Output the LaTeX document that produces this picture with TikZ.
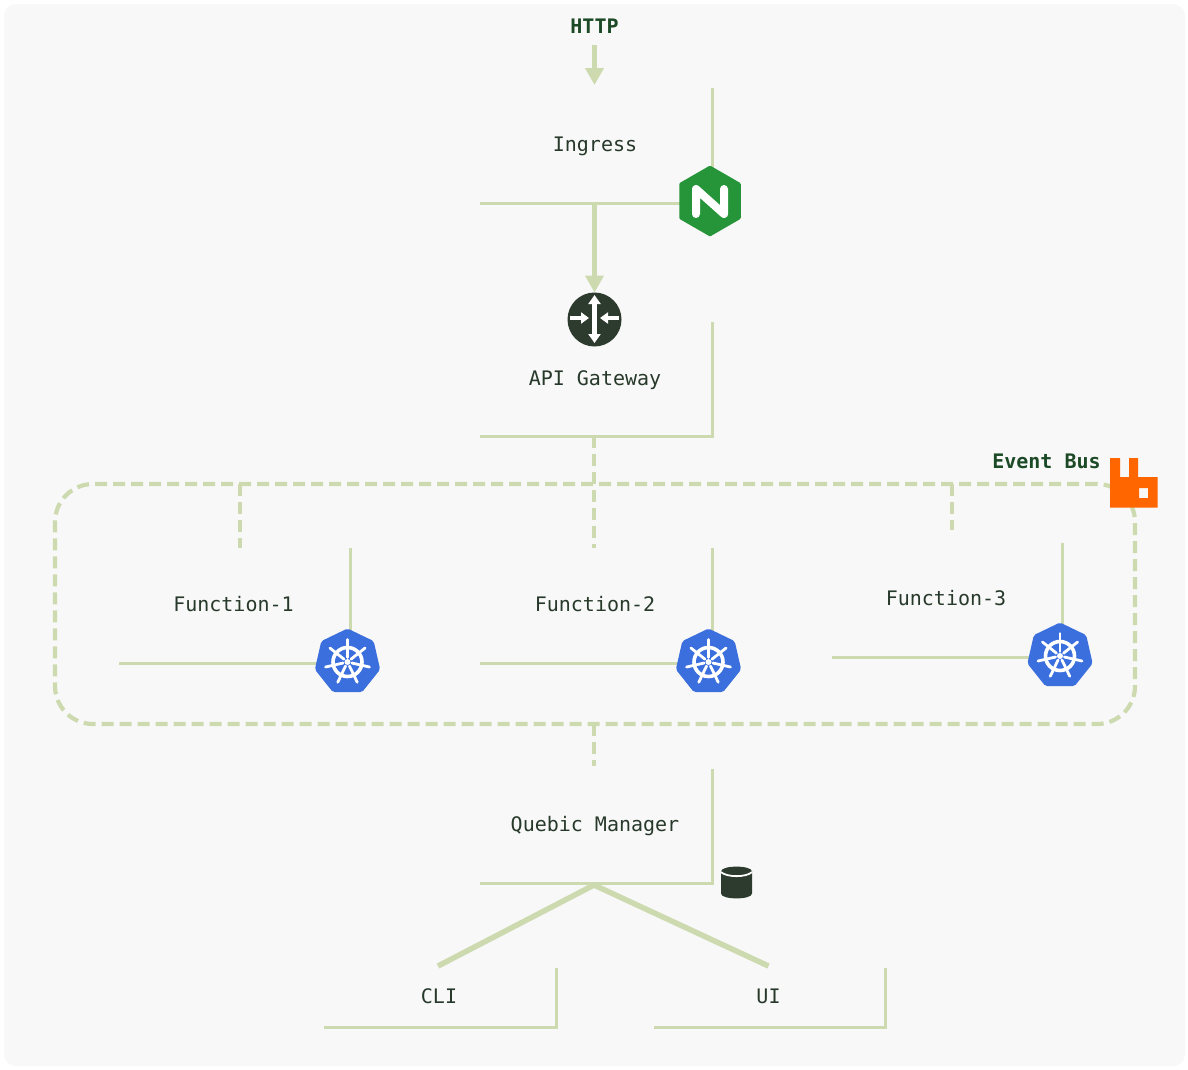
\documentclass[tikz,border=0pt]{standalone}
\usepackage{fontspec}
\setmonofont{DejaVu Sans Mono}
\usetikzlibrary{arrows.meta,shapes.geometric,calc}
\definecolor{panelbg}{HTML}{F8F8F8}
\definecolor{linegreen}{HTML}{CDDAB0}
\definecolor{inktext}{HTML}{27392A}
\definecolor{boldtext}{HTML}{1C4A26}
\definecolor{nginxgreen}{HTML}{269539}
\definecolor{darkicon}{HTML}{2D3A2E}
\definecolor{kubeblue}{HTML}{3B6FDD}
\definecolor{rabbitorange}{HTML}{FF6600}
\tikzset{
  boxline/.style={draw=linegreen,line width=3pt,line join=miter},
  flow/.style={draw=linegreen,line width=5.5pt,-{Triangle[length=17pt,width=18pt]}},
  thickline/.style={draw=linegreen,line width=5.5pt},
  busline/.style={draw=linegreen,line width=4.2pt,dash pattern=on 12pt off 6pt},
  boxnode/.style={inner sep=0pt,outer sep=0pt,font=\ttfamily\fontsize{20}{24}\selectfont,text=inktext},
  boldlabel/.style={inner sep=0pt,outer sep=0pt,font=\ttfamily\bfseries\fontsize{20}{24}\selectfont,text=boldtext},
  kubeicon/.style={regular polygon,regular polygon sides=7,minimum size=67pt,inner sep=0pt,outer sep=0pt,fill=kubeblue,rounded corners=2pt},
}
\newcommand{\kubewheel}[1]{%
  \begin{scope}[shift={(#1.center)}]
    \draw[white,line width=3.6pt] (0,0) circle (14.5);
    \foreach \k in {0,...,6} {
      \draw[white,line width=2.8pt,line cap=round] ({\k*360/7-90}:4.5) -- ({\k*360/7-90}:22.5);
    }
    \fill[white] (0,0) circle (3);
  \end{scope}}
\newcommand{\boxedges}[1]{\draw[boxline] (#1.north east) -- (#1.south east) -- (#1.south west);}
\newcommand{\boxtext}[2][12.4pt]{\raisebox{0pt}[#1][0pt]{\kern-2pt #2}}
\begin{document}
\begin{tikzpicture}[x=1pt,y=-1pt]
\useasboundingbox (0,0) rectangle (1188,1069);
\fill[white] (0,0) rectangle (1188,1069);
\fill[panelbg,rounded corners=12pt] (4,4) rectangle (1185,1066);

% event bus
\node[draw=linegreen,line width=4.2pt,dash pattern=on 12pt off 6pt,rounded corners=38pt,inner sep=0pt,outer sep=0pt,minimum width=1080pt,minimum height=240pt] (bus) at (595,604) {};
\coordinate (busF1) at (240,484);
\coordinate (busMid) at (594,484);
\coordinate (busF3) at (952,484);
\coordinate (busLow) at (594,724);

% boxes
\node[boxnode,minimum width=232pt,minimum height=115pt] (ingress) at (596,145.5) {\boxtext{Ingress}};
\node[boxnode,minimum width=232pt,minimum height=114pt] (gateway) at (596,379) {\boxtext{API Gateway}};
\node[boxnode,minimum width=231pt,minimum height=115pt] (fone) at (234.5,605.5) {\boxtext{Function-1}};
\node[boxnode,minimum width=232pt,minimum height=115pt] (ftwo) at (596,605.5) {\boxtext{Function-2}};
\node[boxnode,minimum width=231pt,minimum height=114pt] (fthree) at (947,600) {\boxtext[10.4pt]{Function-3}};
\node[boxnode,minimum width=232pt,minimum height=114pt] (quebic) at (596,826) {\boxtext[10.4pt]{Quebic Manager}};
\node[boxnode,minimum width=232pt,minimum height=59pt] (cli) at (440,997.5) {\boxtext{CLI}};
\node[boxnode,minimum width=231pt,minimum height=59pt] (ui) at (769.5,997.5) {\boxtext{UI}};
\node[boldlabel] (http) at (594.5,26) {HTTP};
\node[boldlabel] (evbus) at (1046.5,461) {Event Bus};

\boxedges{ingress}
\boxedges{gateway}
\boxedges{fone}
\boxedges{ftwo}
\boxedges{fthree}
\boxedges{quebic}
\boxedges{cli}
\boxedges{ui}

% icons placed as nodes
\node[regular polygon,regular polygon sides=6,shape border rotate=30,minimum size=71pt,inner sep=0pt,outer sep=0pt,fill=nginxgreen,rounded corners=1pt] (nginx) at (710,201) {};
\node[circle,minimum size=54pt,inner sep=0pt,outer sep=0pt,fill=darkicon] (gwicon) at (594.5,319.5) {};
\node[kubeicon] (kone) at (347.5,662) {};
\node[kubeicon] (ktwo) at (708.5,662) {};
\node[kubeicon] (kthree) at (1060,656) {};
\node[inner sep=0pt,outer sep=0pt,minimum width=48pt,minimum height=50pt] (rabbit) at (1134,483) {};
\node[inner sep=0pt,outer sep=0pt,minimum width=32pt,minimum height=32pt] (db) at (736.5,882.5) {};

% connectors
\draw[flow,shorten <=12pt,shorten >=3pt] (http.south) -- (http.south |- ingress.north);
\draw[flow] (ingress.south -| gwicon.north) -- (gwicon.north);
\draw[busline] (gateway.south -| busMid) -- (ftwo.north -| busMid);
\draw[busline] (busF1) -- (fone.north -| busF1);
\draw[busline,shorten >=13pt] (busF3) -- (fthree.north -| busF3);
\draw[busline,shorten >=3pt] (busLow) -- (quebic.north -| busLow);
\coordinate (qtip) at (594,885);
\draw[thickline] (qtip) -- ($(cli.north)+(-2,-2)$);
\draw[thickline] (qtip) -- ($(ui.north)+(-1,-2)$);

% nginx glyph
\begin{scope}[shift={(nginx.center)}]
  \draw[white,line width=8pt,line cap=round,line join=round] (-14,13) -- (-14,-12) -- (14,13) -- (14,-12);
\end{scope}

% gateway glyph
\begin{scope}[shift={(gwicon.center)}]
  \draw[white,line width=4.6pt,{Triangle[length=9pt,width=12pt]}-{Triangle[length=9pt,width=12pt]}] (0,-24.5) -- (0,23.5);
  \draw[white,line width=4.6pt,-{Triangle[length=8pt,width=11pt]}] (-24.5,-1.5) -- (-5.5,-1.5);
  \draw[white,line width=4.6pt,-{Triangle[length=8pt,width=11pt]}] (24.5,-1.5) -- (5.5,-1.5);
\end{scope}

\kubewheel{kone}
\kubewheel{ktwo}
\kubewheel{kthree}

% rabbit glyph
\begin{scope}[shift={(rabbit.center)}]
  \fill[rabbitorange,even odd rule] (-24,-25) -- (-14,-25) -- (-14,-6) -- (-5,-6) -- (-5,-25) -- (4,-25) -- (4,-6) -- (23.5,-6) -- (23.5,24.5) -- (-24,24.5) -- cycle
    (5,5) rectangle (14,15);
\end{scope}

% database glyph
\begin{scope}[shift={(db.center)}]
  \fill[darkicon] (-15.5,-11) .. controls (-15.5,-17.5) and (15.5,-17.5) .. (15.5,-11) -- (15.5,11)
    .. controls (15.5,17.5) and (-15.5,17.5) .. (-15.5,11) -- cycle;
  \draw[white,line width=1.8pt] (-15.5,-10.5) .. controls (-10,-5) and (10,-5) .. (15.5,-10.5);
\end{scope}
\end{tikzpicture}
\end{document}
